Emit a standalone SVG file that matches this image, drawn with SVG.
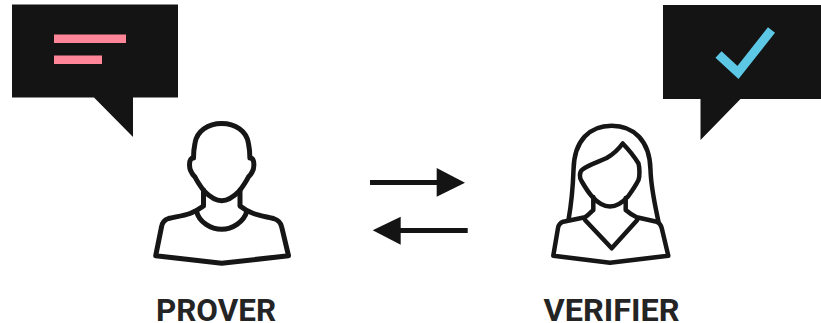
<svg xmlns="http://www.w3.org/2000/svg" width="821" height="323" viewBox="0 0 821 323">
<style>
.line{fill:none;stroke:#161616;stroke-linejoin:round;stroke-linecap:round}
.p{stroke-width:5}
.v{stroke-width:4.500}
.bubble{fill:#141414}
.head{fill:#141414}
.shaft{stroke:#141414;stroke-width:5;fill:none}
.label{font-family:Roboto,"Liberation Sans",sans-serif;font-weight:700;font-size:32px;fill:#242424}
</style>
<rect width="821" height="323" fill="#fff"/>
<g id="prover-bubble">
<path class="bubble" d="M12 4.500H178V97.500H133V137L94 97.500H12Z"/>
<rect x="54" y="34.500" width="72" height="8.500" fill="#ff8598"/>
<rect x="54" y="55.500" width="48" height="8.500" fill="#ff8598"/>
</g>
<g id="verifier-bubble">
<path class="bubble" d="M663 5H821V99H740.500L700.500 140V99H663Z"/>
<path d="M718.500 54.500L738 72.500L771.500 30" fill="none" stroke="#5cc8e6" stroke-width="9"/>
</g>
<g id="prover">
<path class="line p" d="M221.700 123.500C208 123.500 197 131 195 143C194 148 193.500 153 193.500 158C191.500 158 189.500 160 189.500 165C189.500 171 192 174 195 177C198 183 201 187 204 191C209 196 215 200.700 221.700 200.700C228.400 200.700 234.400 196 239.400 191C242.400 187 245.400 183 248.400 177C251.400 174 253.900 171 253.900 165C253.900 160 251.900 158 249.900 158C249.900 153 249.400 148 248.400 143C246.400 131 235.400 123.500 221.700 123.500Z"/>
<path class="line p" d="M203.500 190V206C198 210 194 212 190 213.500C183 216 174 217 168.500 218.500C164 220 162 223 161.500 227L155.700 255.700L221.700 263.300L288.500 255.700L281.700 227C281 223 278 220 273.500 218.500C268 217 260 216 253.500 213.500C249 212 245 210 240 206V190"/>
<path class="line p" d="M196.700 211.700C199 222 211 229.300 221.700 229.300C232 229.300 244 222 246.700 211.700"/>
<text class="label" x="156" y="320.500" textLength="120" lengthAdjust="spacingAndGlyphs">PROVER</text>
</g>
<g id="verifier">
<path class="line v" d="M568.500 220C572 200 573 185 573.500 170C574 140 590 125.700 611.700 125.700C633 125.700 650 140 650.500 170C651 188 655 205 658.500 221.700"/>
<path class="line v" d="M622.700 143.500C618 150 612 155 606.700 158C598 162 588 165 582.500 169.500C579 172 579.500 178 581.500 181C585 187 588 192 592 196.500C597 202 603 206.500 610 206.500C617 206.500 623 202 628 196.500C632 191 636 185 638.500 180C640 176 639.500 167 638.500 163.500C634 156 628 149 622.700 143.500Z"/>
<path class="line v" d="M593.300 197V210C590 213 588 215.500 585 217.300L563.300 221.700C560 223 558.500 225 558 228L553.300 255.700L610 262.700L668.300 255.700L661.700 228C661 225 659 222.700 656.700 221.700L636.700 217.300C632 215 628 212 625.700 210V198"/>
<path class="line v" d="M585 220L611.700 248.300L637.300 220"/>
<text class="label" x="543.500" y="320.500" textLength="136" lengthAdjust="spacingAndGlyphs">VERIFIER</text>
</g>
<g id="connectors">
<path class="shaft" d="M370 182.500H438"/>
<path class="head" d="M436.700 168L465 182.700L436.700 196.700Z"/>
<path class="shaft" d="M467.700 230.500H400"/>
<path class="head" d="M400.700 216.700L372.700 230.300L400.700 244.700Z"/>
</g>
</svg>
